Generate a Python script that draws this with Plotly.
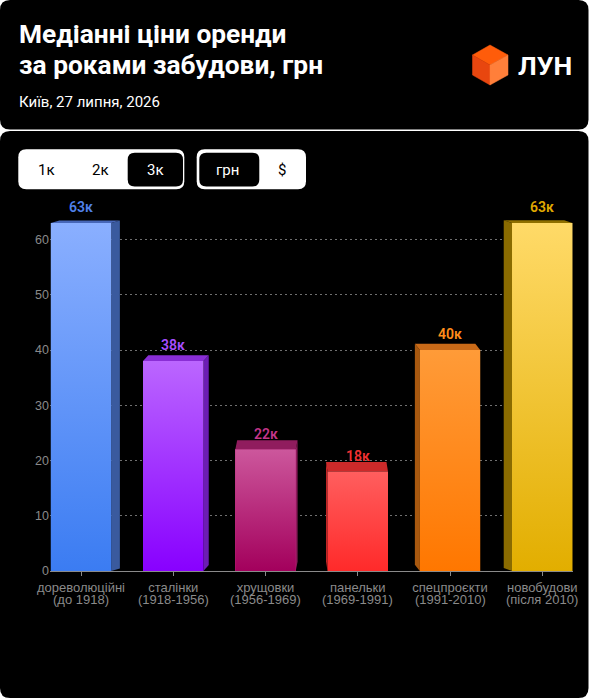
import plotly.graph_objects as go

# ---------------- data ----------------
categories = ["дореволюційні", "сталінки", "хрущовки", "панельки", "спецпроєкти", "новобудови"]
periods = ["(до 1918)", "(1918-1956)", "(1956-1969)", "(1969-1991)", "(1991-2010)", "(після 2010)"]
values = [63, 38, 22, 18, 40, 63]
value_labels = ["63к", "38к", "22к", "18к", "40к", "63к"]
y_ticks = [0, 10, 20, 30, 40, 50, 60]

title_lines = ["Медіанні ціни оренди", "за роками забудови, грн"]
subtitle_text = "Київ, 27 липня, 2026"
brand_text = "ЛУН"
range_buttons = ["1к", "2к", "3к"]
currency_buttons = ["грн", "$"]

# ---------------- styles ----------------
front_top = ["#8aafff", "#bb66ff", "#cc579c", "#ff5e5e", "#ff9b38", "#ffda68"]
front_bottom = ["#3b7cf2", "#8800ff", "#a3005c", "#ff2a2a", "#ff7700", "#e2ae00"]
front_mid = ["#6195f8", "#a233ff", "#b82c7c", "#ff4444", "#ff891c", "#f0c434"]
side_colors = ["#3a5a9e", "#6c1db3", "#8c1a5a", "#c42626", "#a8580f", "#8a6b00"]
top_colors = ["#4767b8", "#8a2ed6", "#901c5e", "#cc2a2a", "#c96a18", "#8e6f00"]
label_colors = ["#4f80ea", "#a64dff", "#c4358a", "#f03030", "#ff8c1a", "#e0aa00"]

W, H = 590, 700
ML, MR, MT, MB = 50, 17, 212, 129
X_RANGE = [-0.336, 5.333]
Y_RANGE = [0, 65]
PW = W - ML - MR
PH = H - MT - MB
PX_PER_X = PW / (X_RANGE[1] - X_RANGE[0])
PX_PER_Y = PH / (Y_RANGE[1] - Y_RANGE[0])
BAR_W = 0.655

# perspective of the 3D boxes (pixels)
VIEW_CENTER = 2.55
DEPTH_X_PER_CAT = 3.4
DEPTH_Y_MAX = 11.0
DEPTH_Y_FALLOFF = 3.3

AXIS_FONT = "Liberation Sans, Arial, sans-serif"
UI_FONT = "Roboto, sans-serif"
AXIS_GRAY = "#8a8a8a"


def px(xp):
    return (xp - ML) / PW


def py(yp):
    return (H - MB - yp) / PH


def rrect(x0, y0, x1, y1, r):
    X0, X1 = px(x0), px(x1)
    Yt, Yb = py(y0), py(y1)
    rx, ry = r / PW, r / PH
    return (f"M {X0+rx},{Yt} L {X1-rx},{Yt} Q {X1},{Yt} {X1},{Yt-ry} "
            f"L {X1},{Yb+ry} Q {X1},{Yb} {X1-rx},{Yb} L {X0+rx},{Yb} "
            f"Q {X0},{Yb} {X0},{Yb+ry} L {X0},{Yt-ry} Q {X0},{Yt} {X0+rx},{Yt} Z")


def poly(points):
    return "M " + " L ".join(f"{px(a)},{py(b)}" for a, b in points) + " Z"


fig = go.Figure()

idx = list(range(len(categories)))

# base bars (front faces)
fig.add_trace(go.Bar(
    x=idx, y=values, width=BAR_W,
    marker=dict(color=front_mid, line=dict(width=0)),
    hovertext=[f"{c} {p}: {l}" for c, p, l in zip(categories, periods, value_labels)],
    hoverinfo="text", showlegend=False,
))

for i, v in enumerate(values):
    xl, xr = i - BAR_W / 2, i + BAR_W / 2
    ddx = -DEPTH_X_PER_CAT * (i - VIEW_CENTER) / PX_PER_X
    ddy = (DEPTH_Y_MAX - DEPTH_Y_FALLOFF * abs(i - VIEW_CENTER)) / PX_PER_Y
    xe = xr if ddx > 0 else xl
    # side face
    fig.add_trace(go.Scatter(
        x=[xe, xe, xe + ddx, xe + ddx, xe], y=[0, v, v + ddy, ddy, 0],
        fill="toself", fillcolor=side_colors[i], mode="lines",
        line=dict(width=0, color=side_colors[i]), hoverinfo="skip", showlegend=False,
    ))
    # top face
    fig.add_trace(go.Scatter(
        x=[xl, xr, xr + ddx, xl + ddx, xl], y=[v, v, v + ddy, v + ddy, v],
        fill="toself", fillcolor=top_colors[i], mode="lines",
        line=dict(width=0, color=top_colors[i]), hoverinfo="skip", showlegend=False,
    ))
    # gradient front face
    fig.add_trace(go.Scatter(
        x=[xl, xr, xr, xl, xl], y=[0, 0, v, v, 0],
        fill="toself", mode="lines",
        fillgradient=dict(type="vertical", colorscale=[[0, front_bottom[i]], [1, front_top[i]]]),
        line=dict(width=0, color=front_mid[i]), hoverinfo="skip", showlegend=False,
    ))

annotations = []
for i, v in enumerate(values):
    annotations.append(dict(
        x=i, y=v, xref="x", yref="y", yshift=15.7, yanchor="middle", xanchor="center",
        text=value_labels[i], showarrow=False,
        font=dict(family=UI_FONT, size=14, color=label_colors[i], weight=600),
    ))
    annotations.append(dict(
        x=i, y=py(599.3), xref="x", yref="paper", yanchor="middle", xanchor="center",
        text=periods[i], showarrow=False,
        font=dict(family=AXIS_FONT, size=13, color=AXIS_GRAY),
    ))

# header texts
for line, yc in zip(title_lines, [34, 64.8]):
    annotations.append(dict(
        x=px(17), y=py(yc), xref="paper", yref="paper", xanchor="left", yanchor="middle",
        text=line, showarrow=False, align="left",
        font=dict(family=UI_FONT, size=26.3, color="#ffffff", weight=700),
    ))
annotations.append(dict(
    x=px(17), y=py(102), xref="paper", yref="paper", xanchor="left", yanchor="middle",
    text=subtitle_text, showarrow=False,
    font=dict(family=UI_FONT, size=15, color="#ffffff"),
))
annotations.append(dict(
    x=px(516), y=py(66), xref="paper", yref="paper", xanchor="left", yanchor="middle",
    text=brand_text, showarrow=False,
    font=dict(family=UI_FONT, size=26.5, color="#ffffff", weight=700),
))

shapes = []
# cards
shapes.append(dict(type="path", xref="paper", yref="paper", path=rrect(0, 0, 588.5, 129.5, 10),
                   fillcolor="#000000", line=dict(width=0), layer="below"))
shapes.append(dict(type="path", xref="paper", yref="paper", path=rrect(0, 131, 588.5, 698, 10),
                   fillcolor="#000000", line=dict(width=0), layer="below"))

# logo cube
cube_top = [(490, 45), (508, 55), (490, 65), (472.5, 55)]
cube_left = [(472.5, 55), (490, 65), (490, 85), (472.5, 75)]
cube_right = [(490, 65), (508, 55), (508, 75), (490, 85)]
for pts, col in [(cube_top, "#ff5c0a"), (cube_left, "#e8460f"), (cube_right, "#ff7f3a")]:
    shapes.append(dict(type="path", xref="paper", yref="paper", path=poly(pts),
                       fillcolor=col, line=dict(width=0.5, color=col), layer="above"))

# toggle buttons
shapes.append(dict(type="path", xref="paper", yref="paper", path=rrect(18.3, 149.3, 184.3, 189.3, 8),
                   fillcolor="#ffffff", line=dict(width=0), layer="above"))
shapes.append(dict(type="path", xref="paper", yref="paper", path=rrect(127.7, 152.7, 183, 186.5, 7),
                   fillcolor="#000000", line=dict(width=0), layer="above"))
shapes.append(dict(type="path", xref="paper", yref="paper", path=rrect(196.7, 149.3, 306, 189.3, 8),
                   fillcolor="#ffffff", line=dict(width=0), layer="above"))
shapes.append(dict(type="path", xref="paper", yref="paper", path=rrect(199.3, 152.7, 259.3, 186.5, 7),
                   fillcolor="#000000", line=dict(width=0), layer="above"))

btn_x = [46.7, 100, 155.7]
for lab, bx, sel in zip(range_buttons, btn_x, [False, False, True]):
    annotations.append(dict(
        x=px(bx), y=py(170), xref="paper", yref="paper", xanchor="center", yanchor="middle",
        text=lab, showarrow=False,
        font=dict(family=UI_FONT, size=15, color="#ffffff" if sel else "#000000"),
    ))
cur_x = [227.7, 281.7]
for lab, bx, sel in zip(currency_buttons, cur_x, [True, False]):
    annotations.append(dict(
        x=px(bx), y=py(170), xref="paper", yref="paper", xanchor="center", yanchor="middle",
        text=lab, showarrow=False,
        font=dict(family=UI_FONT, size=15, color="#ffffff" if sel else "#000000"),
    ))

fig.update_layout(
    width=W, height=H,
    margin=dict(l=ML, r=MR, t=MT, b=MB, pad=0),
    paper_bgcolor="#ffffff", plot_bgcolor="rgba(0,0,0,0)",
    showlegend=False, bargap=0,
    shapes=shapes, annotations=annotations,
    xaxis=dict(
        range=X_RANGE, tickmode="array", tickvals=idx, ticktext=categories,
        showgrid=False, zeroline=False, showline=True, linecolor=AXIS_GRAY, linewidth=1,
        ticks="outside", ticklen=4, tickcolor=AXIS_GRAY, tickwidth=1,
        tickfont=dict(family=AXIS_FONT, size=13, color=AXIS_GRAY), fixedrange=True,
    ),
    yaxis=dict(
        range=Y_RANGE, tickmode="array", tickvals=y_ticks,
        showgrid=True, gridcolor="#707070", gridwidth=1, griddash="2px,3px",
        zeroline=False, showline=False, ticks="",
        tickfont=dict(family=AXIS_FONT, size=12.5, color=AXIS_GRAY), fixedrange=True,
    ),
)

fig.write_html("out.html")
